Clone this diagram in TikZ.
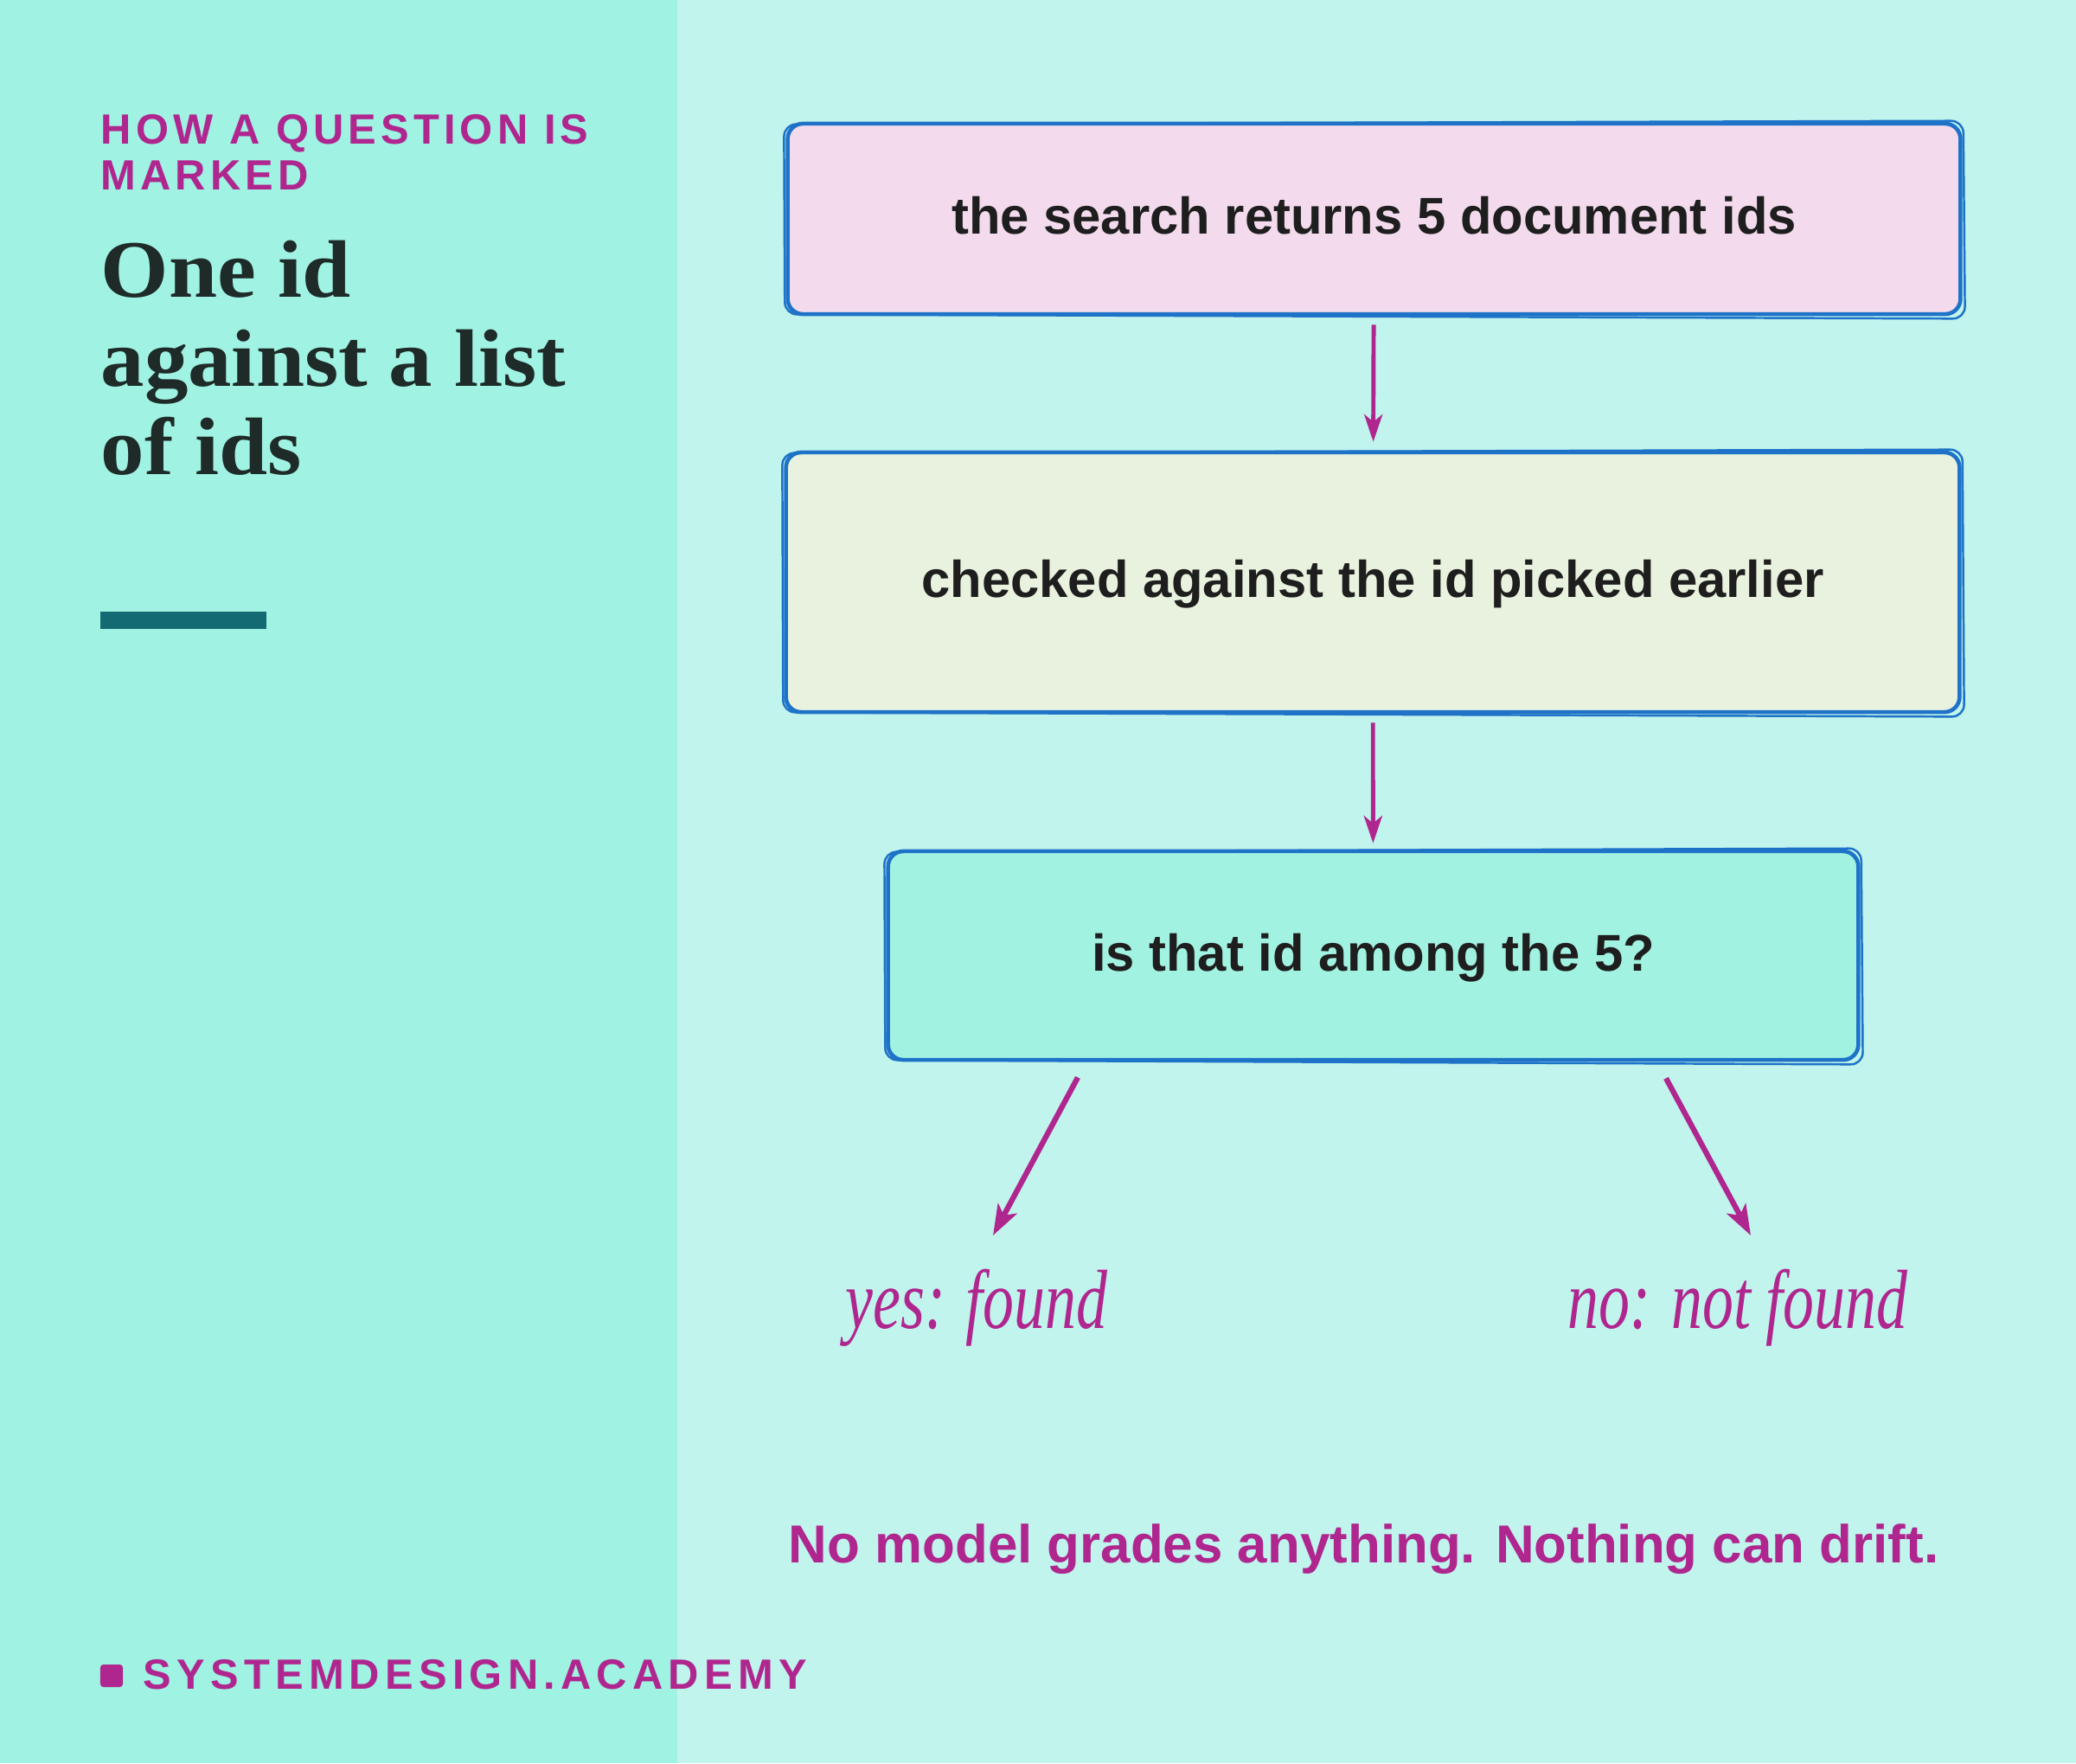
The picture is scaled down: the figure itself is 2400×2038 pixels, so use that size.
\documentclass[tikz,border=0pt]{standalone}
\usepackage{fontspec}
\setmainfont{Liberation Sans}
\newfontfamily\headfont[LetterSpace=10.5]{Liberation Sans}
\newfontfamily\footfont[LetterSpace=12.7]{Liberation Sans}
\newfontfamily\titlefont[FakeStretch=1.07]{Liberation Serif}
\newfontfamily\handfont[FakeStretch=0.74]{Liberation Serif}
\usetikzlibrary{arrows.meta,calc}
\definecolor{leftbg}{HTML}{A0F2E2}
\definecolor{rightbg}{HTML}{C1F4EC}
\definecolor{pinkfill}{HTML}{F3DAEC}
\definecolor{greenfill}{HTML}{E8F2DE}
\definecolor{cyanfill}{HTML}{A2F2E2}
\definecolor{boxblue}{HTML}{1E73C8}
\definecolor{accent}{HTML}{B0268F}
\definecolor{tealbar}{HTML}{146A72}
\definecolor{ink}{HTML}{1E1E1E}
\definecolor{titleink}{HTML}{1E2B28}
\begin{document}
\begin{tikzpicture}[x=0.01cm,y=-0.01cm,
  box/.style={draw=boxblue, line width=1.3pt, rounded corners=5pt, inner sep=0pt,
    text=ink, font={\fontsize{17pt}{20pt}\selectfont\bfseries},
    text height=1.05em, text depth=0.04em},
  sketch/.style={draw=boxblue, line width=0.7pt, rounded corners=4pt},
  varr/.style={draw=accent, line width=1.4pt, -{Stealth[length=9pt,width=6pt,inset=2.5pt]}},
  darr/.style={draw=accent, line width=1.8pt, -{Stealth[length=10pt,width=7pt,inset=2.5pt]}},
  hand/.style={text=accent, inner sep=0pt, font={\handfont\itshape\fontsize{27.6pt}{30pt}\selectfont}},
  head/.style={text=accent, inner sep=0pt, anchor=base west, font={\headfont\bfseries\fontsize{13.9pt}{16pt}\selectfont}},
  ttl/.style={text=titleink, inner sep=0pt, anchor=base west, font={\titlefont\bfseries\fontsize{26.8pt}{30pt}\selectfont}}
]
\useasboundingbox (0,0) rectangle (2400,2038);
\fill[rightbg] (0,0) rectangle (2400,2038);
\fill[leftbg] (0,0) rectangle (783,2038);

% left column
\node[head] (h1) at (116,166) {HOW A QUESTION IS};
\node[head] (h2) at (116,219) {MARKED};
\node[ttl] (t1) at (116,343) {One id};
\node[ttl] (t2) at (116,446) {against a list};
\node[ttl] (t3) at (116,548) {of ids};
\node[fill=tealbar, minimum width=1.92cm, minimum height=0.2cm, inner sep=0pt] (bar) at (212,717) {};
\node[fill=accent, minimum size=0.26cm, rounded corners=1pt, inner sep=0pt] (sq) at (129,1937) {};
\node[text=accent, inner sep=0pt, anchor=base west, font={\footfont\bfseries\fontsize{13.9pt}{16pt}\selectfont}] (foot) at (165,1952) {SYSTEMDESIGN.ACADEMY};

% flow
\node[box, fill=pinkfill, minimum width=13.55cm, minimum height=2.2cm] (b1) at (1588.5,253) {the search returns 5 document ids};
\node[box, fill=greenfill, minimum width=13.56cm, minimum height=3.0cm] (b2) at (1587,673) {checked against the id picked earlier};
\node[box, fill=cyanfill, minimum width=11.21cm, minimum height=2.41cm] (b3) at (1587.5,1104.5) {is that id among the 5?};

% hand-drawn second strokes
\foreach \b in {b1,b2,b3}{
  \draw[sketch] ($(\b.north west)+(-2,3)$) -- ($(\b.north east)+(1,-1)$) -- ($(\b.south east)+(3,3)$) -- ($(\b.south west)+(-1,-2)$) -- cycle;
}

\draw[varr, shorten <=0.1cm, shorten >=0.1cm] (b1) -- (b2);
\draw[varr, shorten <=0.1cm, shorten >=0.07cm] (b2) -- (b3);

\node[hand, anchor=base] (yes) at (1129,1535) {yes: found};
\node[hand, anchor=base] (no) at (2009,1535) {no: not found};
\coordinate (ytip) at (1148,1428);
\coordinate (ntip) at (2024,1428);
\draw[darr] ($(b3.south)+(-341.5,18)$) -- (ytip);
\draw[darr] ($(b3.south)+(338.5,19)$) -- (ntip);

\node[text=accent, inner sep=0pt, anchor=base west, font={\bfseries\fontsize{17.6pt}{20pt}\selectfont}] (note) at (911,1806) {No model grades anything. Nothing can drift.};
\end{tikzpicture}
\end{document}
